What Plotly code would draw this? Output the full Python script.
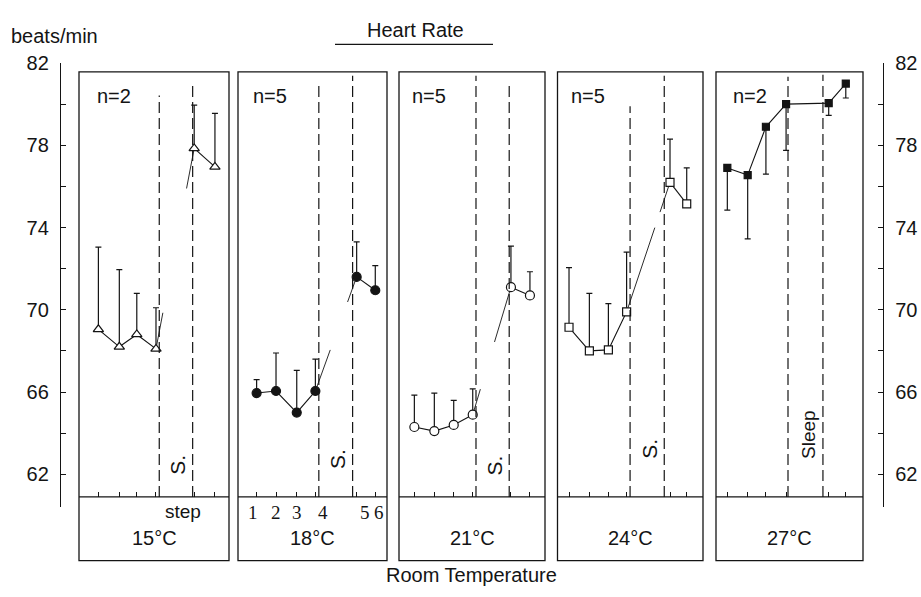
import plotly.graph_objects as go

W, H = 921, 597

# ---------------- data ----------------
temps = ["15°C", "18°C", "21°C", "24°C", "27°C"]
n_labels = ["n=2", "n=5", "n=5", "n=5", "n=2"]
event_labels = ["S.", "S.", "S.", "S.", "Sleep"]
slot_labels = ["1", "2", "3", "4", "5", "6"]

# measurement positions within each panel (time-slot units)
pos_15 = [1.01, 2.10, 3.01, 4.01, 6.00, 7.08]
pos_18 = [0.97, 1.98, 3.06, 4.03, 6.18, 7.15]
pos_21 = [0.80, 1.84, 2.85, 3.84, 5.83, 6.82]
pos_24 = [0.60, 1.66, 2.65, 3.60, 5.86, 6.73]
pos_27 = [0.59, 1.65, 2.60, 3.65, 5.87, 6.76]

# heart rate means (beats/min)
hr_15 = [69.05, 68.20, 68.80, 68.10, 77.85, 76.95]
hr_18 = [65.95, 66.05, 65.00, 66.05, 71.60, 70.95]
hr_21 = [64.30, 64.10, 64.40, 64.90, 71.10, 70.70]
hr_24 = [69.15, 68.00, 68.05, 69.90, 76.20, 75.15]
hr_27 = [76.90, 76.55, 78.90, 80.00, 80.05, 81.00]

# one-sided SD bars
sd_15 = [4.00, 3.75, 2.00, 2.00, 2.10, 2.60]
sd_18 = [0.65, 1.85, 2.05, 1.55, 1.70, 1.20]
sd_21 = [1.55, 1.85, 1.20, 1.25, 2.00, 1.15]
sd_24 = [2.90, 2.80, 2.25, 2.90, 2.10, 1.75]
sd_27 = [2.05, 3.10, 2.30, 2.25, 0.60, 0.70]

# event marker positions (step start / end, or sleep) per panel
step_on = [4.18, 4.21, 4.01, 3.78, 3.75]
step_off = [5.92, 5.97, 5.74, 5.56, 5.57]

slot_label_pos = [0.80, 2.00, 3.05, 4.45, 6.60, 7.35]

y_tick_vals = [62, 64, 66, 68, 70, 72, 74, 76, 78, 80, 82]
y_tick_text = ["62", "", "66", "", "70", "", "74", "", "78", "", "82"]

positions = [pos_15, pos_18, pos_21, pos_24, pos_27]
means = [hr_15, hr_18, hr_21, hr_24, hr_27]
sds = [sd_15, sd_18, sd_21, sd_24, sd_27]

# ---------------- style / layout ----------------
FONT = "Liberation Sans, Arial, sans-serif"
INK = "#141414"
LW = 1.3
panel_px = [(79, 229), (238, 387), (399, 545), (557.5, 703), (716, 863)]
slot_px = 19.2
top_px, sep_px, bot_px = 62, 495, 560
px_per_unit = 20.95
y_lo = 82 - (sep_px - 53) / px_per_unit
y_hi = 82 - (top_px - 53) / px_per_unit
axis_top_px, axis_bot_px = 53, 505
axis_bottom_val = 82 - (axis_bot_px - 53) / px_per_unit

symbols = ["triangle-up", "circle", "circle", "square", "square"]
fills = ["white", INK, "white", "white", INK]
msizes = [9, 9, 9, 8, 7]
err_up = [True, True, True, True, False]
stub_frac = [(0.18, 0.80), (0.36, 0.78), (0.20, 0.57), (0.65, 0.77), None]
dash_tops = [(80.42, 81.05), (81.05, 81.38), (81.38, 81.05), (79.9, 81.38), (81.33, 81.43)]
n_offset = [16, 12.6, 11, 11, 14.7]
event_bottom = [61.86, 62.14, 61.86, 62.67, 62.67]
event_size = [21, 21, 21, 21, 19]


def py(p):
    return 1 - p / H


def px(p):
    return p / W


fig = go.Figure()
shapes = []
annotations = []

for i in range(5):
    xa = "x" if i == 0 else f"x{i + 1}"
    xs, ys, sd = positions[i], means[i], sds[i]
    line_style = dict(color=INK, width=1.1)
    if stub_frac[i] is None:
        fig.add_trace(go.Scatter(x=xs, y=ys, mode="lines", line=line_style,
                                 xaxis=xa, yaxis="y", showlegend=False, hoverinfo="skip"))
    else:
        fig.add_trace(go.Scatter(x=xs[:4], y=ys[:4], mode="lines", line=line_style,
                                 xaxis=xa, yaxis="y", showlegend=False, hoverinfo="skip"))
        fig.add_trace(go.Scatter(x=xs[4:], y=ys[4:], mode="lines", line=line_style,
                                 xaxis=xa, yaxis="y", showlegend=False, hoverinfo="skip"))
        f1, f2 = stub_frac[i]
        x4, y4, x5, y5 = xs[3], ys[3], xs[4], ys[4]
        sx = [x4, x4 + f1 * (x5 - x4), None, x4 + f2 * (x5 - x4), x5]
        sy = [y4, y4 + f1 * (y5 - y4), None, y4 + f2 * (y5 - y4), y5]
        fig.add_trace(go.Scatter(x=sx, y=sy, mode="lines", line=dict(color=INK, width=0.9),
                                 xaxis=xa, yaxis="y", showlegend=False, hoverinfo="skip"))
    if err_up[i]:
        ey = dict(type="data", symmetric=False, array=sd, arrayminus=[0] * len(sd),
                  color=INK, thickness=1.2, width=3)
    else:
        ey = dict(type="data", symmetric=False, array=[0] * len(sd), arrayminus=sd,
                  color=INK, thickness=1.2, width=3)
    fig.add_trace(go.Scatter(x=xs, y=ys, mode="markers", error_y=ey,
                             marker=dict(symbol=symbols[i], size=msizes[i], color=fills[i],
                                         line=dict(color=INK, width=1.2)),
                             xaxis=xa, yaxis="y", showlegend=False, hoverinfo="skip"))

    # event lines
    for xv, tv in zip((step_on[i], step_off[i]), dash_tops[i]):
        shapes.append(dict(type="line", xref=xa, yref="y", x0=xv, x1=xv, y0=y_lo, y1=tv,
                           line=dict(color=INK, width=1.2, dash="11px,5px")))
    # panel box + separator
    l, r = panel_px[i]
    shapes.append(dict(type="rect", xref="paper", yref="paper", x0=px(l), x1=px(r),
                       y0=py(bot_px), y1=py(top_px), line=dict(color=INK, width=LW)))
    shapes.append(dict(type="line", xref="paper", yref="paper", x0=px(l), x1=px(r),
                       y0=py(sep_px), y1=py(sep_px), line=dict(color=INK, width=LW)))

    annotations.append(dict(text=n_labels[i], xref="paper", yref="paper",
                            x=px(l + n_offset[i]), y=py(87), xanchor="left", yanchor="middle",
                            showarrow=False, font=dict(family=FONT, size=20, color=INK)))
    annotations.append(dict(text=temps[i], xref="paper", yref="paper",
                            x=px((l + r) / 2), y=py(537), xanchor="center", yanchor="middle",
                            showarrow=False, font=dict(family=FONT, size=20, color=INK)))
    annotations.append(dict(text=event_labels[i], xref=xa, yref="y", x=step_off[i],
                            y=event_bottom[i], xshift=-15, xanchor="center", yanchor="bottom",
                            textangle=-90, showarrow=False,
                            font=dict(family=FONT, size=event_size[i], color=INK)))

# "step" label in first panel
annotations.append(dict(text="step", xref="x", yref="paper", x=step_off[0], y=py(510),
                        xshift=-10, xanchor="center", yanchor="middle", showarrow=False,
                        font=dict(family=FONT, size=19, color=INK)))
# measurement numbers in second panel
for lab, xv in zip(slot_labels, slot_label_pos):
    annotations.append(dict(text=lab, xref="x2", yref="paper", x=xv, y=py(511),
                            xanchor="center", yanchor="middle", showarrow=False,
                            font=dict(family="Liberation Serif, DejaVu Serif, serif", size=19, color=INK)))

annotations += [
    dict(text="Heart Rate", xref="paper", yref="paper", x=px(415), y=py(19),
         xanchor="center", yanchor="middle", showarrow=False,
         font=dict(family=FONT, size=20, color=INK)),
    dict(text="Room Temperature", xref="paper", yref="paper", x=px(471), y=py(575),
         xanchor="center", yanchor="middle", showarrow=False,
         font=dict(family=FONT, size=20, color=INK)),
    dict(text="beats/min", xref="paper", yref="paper", x=px(9), y=py(25),
         xanchor="left", yanchor="middle", showarrow=False,
         font=dict(family=FONT, size=20, color=INK)),
]
shapes.append(dict(type="line", xref="paper", yref="paper", x0=px(335), x1=px(493),
                   y0=py(34), y1=py(34), line=dict(color=INK, width=1.2)))

# dummy traces so the outer value axes are drawn
fig.add_trace(go.Scatter(x=[None], y=[None], xaxis="x", yaxis="y2", showlegend=False, hoverinfo="skip"))
fig.add_trace(go.Scatter(x=[None], y=[None], xaxis="x", yaxis="y3", showlegend=False, hoverinfo="skip"))

layout = dict(
    width=W, height=H, margin=dict(l=0, r=0, t=0, b=0),
    paper_bgcolor="white", plot_bgcolor="rgba(0,0,0,0)",
    shapes=shapes, annotations=annotations, showlegend=False,
    font=dict(family=FONT, color=INK),
    yaxis=dict(domain=[py(sep_px), py(top_px)], range=[y_lo, y_hi], visible=False,
               showgrid=False, zeroline=False, fixedrange=True),
)
outer_vals = [axis_bottom_val] + y_tick_vals
outer_text = [""] + y_tick_text
for name, pos, side in (("yaxis2", 60, "left"), ("yaxis3", 883, "right")):
    layout[name] = dict(domain=[py(axis_bot_px), py(axis_top_px)],
                        range=[axis_bottom_val, 82], anchor="free", position=px(pos), side=side,
                        tickmode="array", tickvals=outer_vals, ticktext=outer_text,
                        ticks="inside", ticklen=5, tickwidth=1.2, tickcolor=INK,
                        showline=True, linecolor=INK, linewidth=LW, showgrid=False,
                        zeroline=False, ticklabelstandoff=7,
                        tickfont=dict(family=FONT, size=20, color=INK), fixedrange=True)
for i in range(5):
    name = "xaxis" if i == 0 else f"xaxis{i + 1}"
    l, r = panel_px[i]
    layout[name] = dict(domain=[px(l), px(r)], range=[0, (r - l) / slot_px], anchor="y",
                        showline=False, showgrid=False, zeroline=False,
                        tickmode="array", tickvals=positions[i], ticks="inside", ticklen=5,
                        tickwidth=1.2, tickcolor=INK, showticklabels=False, fixedrange=True)
fig.update_layout(**layout)
fig.write_html("out.html")
